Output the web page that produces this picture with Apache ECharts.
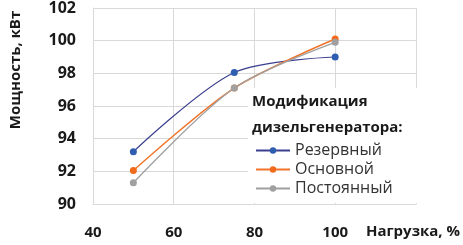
<!DOCTYPE html>
<html>
<head>
<meta charset="utf-8">
<script src="https://cdn.jsdelivr.net/npm/echarts@6/dist/echarts.min.js"></script>
<style>
  html, body { margin: 0; padding: 0; background: #fff; }
  #chart { width: 463px; height: 245px; }
</style>
</head>
<body>
<div id="chart"></div>
<script>
  // нагрузка, %
  const loads = [50, 75, 100]
  const rezerv = [93.2, 98.05, 99.0]
  const osnov = [92.05, 97.1, 100.1]
  const postoyan = [91.3, 97.1, 99.9]
  const yTicks = [90, 92, 94, 96, 98, 100, 102]
  const xTicks = [40, 60, 80, 100, 120]

  const font = '"Open Sans", Lato, sans-serif'
  const chart = echarts.init(document.getElementById('chart'))

  function pairs(vals) {
    return loads.map((x, i) => [x, vals[i]])
  }

  chart.setOption({
    animation: false,
    grid: { left: 80, right: 44, top: 8, bottom: 41 },
    xAxis: {
      type: 'value',
      min: xTicks[0],
      max: xTicks[xTicks.length - 1],
      interval: 20,
      axisLine: { lineStyle: { color: '#d9d9d9' } },
      axisTick: { show: false },
      splitLine: { lineStyle: { color: '#d9d9d9' } },
      axisLabel: {
        margin: 21,
        fontFamily: font, fontWeight: 'bold', fontSize: 15, color: '#1a1a1a',
        formatter: v => (v === 120 ? '' : v)
      },
      name: 'Нагрузка, %',
      nameLocation: 'end',
      nameGap: -50,
      nameTextStyle: {
        fontFamily: font, fontWeight: 'bold', fontSize: 15, color: '#1a1a1a',
        align: 'left', verticalAlign: 'top', padding: [20, 0, 0, 0]
      }
    },
    yAxis: {
      type: 'value',
      min: yTicks[0],
      max: yTicks[yTicks.length - 1],
      interval: 2,
      axisLine: { show: true, lineStyle: { color: '#d9d9d9' } },
      axisTick: { show: false },
      splitLine: { lineStyle: { color: '#d9d9d9' } },
      axisLabel: {
        margin: 17,
        fontFamily: font, fontWeight: 'bold', fontSize: 16, color: '#1a1a1a'
      },
      name: 'Мощность, кВт',
      nameLocation: 'middle',
      nameGap: 70,
      nameTextStyle: {
        fontFamily: font, fontWeight: 'bold', fontSize: 15, color: '#1a1a1a',
        padding: [0, 0, 0, 72]
      }
    },
    title: {
      text: 'Модификация\nдизельгенератора:',
      left: 252,
      top: 89,
      textStyle: { fontFamily: font, fontWeight: 'bold', fontSize: 15, color: '#1a1a1a', lineHeight: 26 },
      padding: 0,
      z: 10
    },
    legend: {
      orient: 'vertical',
      left: 248,
      top: 88,
      backgroundColor: '#fff',
      padding: [53, 26, 5, 7],
      itemWidth: 34,
      itemHeight: 8,
      itemGap: 0,
      textStyle: { fontFamily: font, fontSize: 16, color: '#333', lineHeight: 19 },
      data: ['Резервный', 'Основной', 'Постоянный']
    },
    series: [
      {
        name: 'Резервный', type: 'line', smooth: 0.3,
        data: pairs(rezerv),
        symbol: 'circle', symbolSize: 7,
        lineStyle: { color: '#3b3f8f', width: 1.2 },
        itemStyle: { color: '#2f5db0' }
      },
      {
        name: 'Основной', type: 'line', smooth: 0.3,
        data: pairs(osnov),
        symbol: 'circle', symbolSize: 7,
        lineStyle: { color: '#f0752a', width: 1.5 },
        itemStyle: { color: '#f26b1d' }
      },
      {
        name: 'Постоянный', type: 'line', smooth: 0.3,
        data: pairs(postoyan),
        symbol: 'circle', symbolSize: 7,
        lineStyle: { color: '#a0a0a0', width: 1.3 },
        itemStyle: { color: '#a0a0a0' }
      }
    ]
  })
</script>
</body>
</html>
